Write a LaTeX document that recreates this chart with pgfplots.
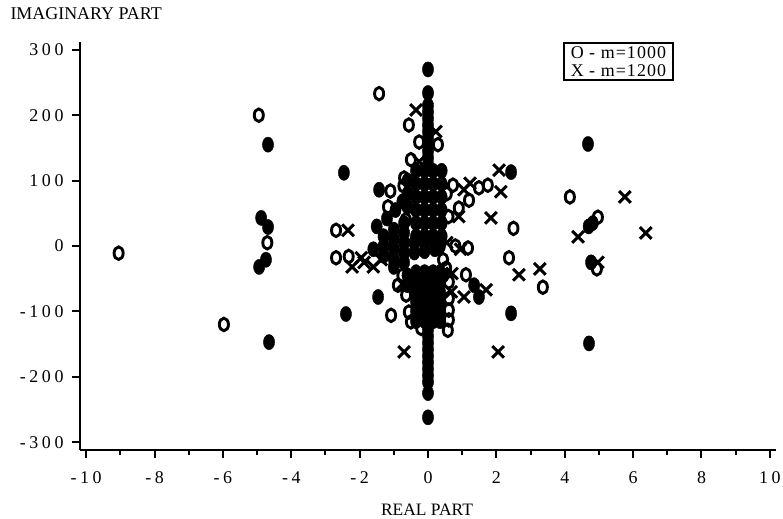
\documentclass[border=0pt]{standalone}
\usepackage{fontspec}
\setmainfont{Liberation Serif}
\newfontfamily\tickfont{Liberation Serif}[LetterSpace=20]
\newfontfamily\legfont{Liberation Serif}[LetterSpace=6]
\usepackage{pgfplots}
\pgfplotsset{compat=1.18}

\begin{document}
\begin{tikzpicture}
\useasboundingbox (-80bp,-69bp) rectangle (703bp,450bp);
\begin{axis}[
  at={(0,0)}, anchor=south west,
  scale only axis, width=696bp, height=408bp,
  xmin=-10.18, xmax=10.18, ymin=-312, ymax=312,
  axis x line*=bottom, axis y line*=left,
  axis line style={line width=2bp},
  xtick={-10,-8,...,10},
  xticklabels={-10,-8,-6,-4,-2,0,2,4,6,8,10},
  minor xtick={-9,-7,...,9},
  ytick={-300,-200,...,300},
  yticklabels={-300,-200,-100,0,100,200,300},
  tick align=outside,
  major tick length=8bp, minor tick length=5bp,
  every tick/.style={line width=2bp,black},
  ticklabel style={font=\tickfont\fontsize{18}{18}\selectfont},
  xticklabel style={yshift=-10bp},
  yticklabel style={xshift=-5bp},
  clip=false,
]
% m=1000 only
\addplot[only marks, mark=o, mark size=6.3bp,
  mark options={xscale=0.72, line width=2.9bp, black}] coordinates {
  (-9.05,-11) (-5.97,-120) (-4.95,200) (-4.70,5) (-2.69,24) (-2.69,-18)
  (-2.32,-16) (-1.43,233) (-0.56,185) (-0.26,159) (0.29,155) (-0.50,132)
  (-0.70,104) (-0.72,92) (-1.10,84) (-1.17,60) (1.75,93) (1.49,89)
  (1.20,70) (0.90,58) (0.73,93) (2.50,27) (1.11,-44) (2.37,-18)
  (1.17,-3) (0.80,0) (-1.08,-106) (4.15,75) (4.97,44) (4.94,-35) (3.36,-63)
  (-0.88,-60) (-0.64,-75) (-0.56,-101) (-0.50,-116) (-0.20,-126)
  (0.53,-34) (0.61,-55) (0.61,-80) (0.61,-98) (0.61,-113) (0.58,-129)
  (0.44,-21) (-0.75,-45) (0.55,80) (0.60,45) (-0.65,40)
};
% m=1200 only
\addplot[only marks, mark=x, mark size=8.3bp,
  mark options={line width=3bp, black}] coordinates {
  (-2.34,24) (-2.22,-32) (-1.87,-25) (-1.60,-32) (-1.37,-21) (-0.35,208)
  (0.23,175) (-0.26,129) (2.08,116) (2.13,83) (1.23,96) (1.05,86)
  (0.90,45) (1.84,43) (-0.70,-162) (2.05,-162) (1.70,-67) (1.05,-78)
  (2.66,-44) (5.76,75) (4.39,14) (6.37,20) (4.97,-25) (3.27,-35)
  (0.55,5) (0.95,-5) (0.70,-42) (0.68,-70) (-0.75,-58) (-1.95,-18)
};
% both (coinciding roots)
\addplot[only marks, mark=*, mark size=7.6bp,
  mark options={xscale=0.74, black, fill=black}] coordinates {
  (-4.68,155) (-2.46,112) (-1.43,86) (-4.88,43) (-4.68,29) (-4.94,-32)
  (-4.74,-21) (-2.40,-104) (-4.65,-147) (-1.46,-78) (0,270) (0,234)
  (2.43,113) (4.68,156) (4.82,35) (4.70,30) (4.77,-25) (2.43,-103)
  (1.35,-60) (1.49,-78) (0,-225) (0,-262) (4.71,-149)
  (0,125) (0,135) (0,145) (0,155) (0,165) (0,175) (0,185) (0,195) (0,205) (0,215)
  (-0.35,15) (-0.1,15) (0.15,15) (0.4,15)
  (-0.35,35) (-0.1,35) (0.15,35) (0.4,35)
  (-0.35,55) (-0.1,55) (0.15,55) (0.4,55)
  (-0.35,75) (-0.1,75) (0.15,75) (0.4,75)
  (-0.35,95) (-0.1,95) (0.15,95) (0.4,95)
  (-0.35,115) (-0.1,115) (0.15,115) (0.4,115)
  (-0.6,60) (-0.6,80) (-0.6,100)
  (-1.3,-15) (-1.3,0) (-1.3,15) (-1.0,-20) (-1.0,-5) (-1.0,10) (-1.0,25)
  (-0.7,-25) (-0.7,-10) (-0.7,5) (-0.7,20) (-0.7,35) (-1.5,30) (-1.2,42)
  (-0.95,55) (-0.75,68) (-1.6,-5)
  (-0.4,-10) (-0.4,5) (-0.1,-8) (-0.1,5) (0.2,-5) (0.2,5) (0.35,0) (-1.0,-32)
  (-0.35,-40) (-0.1,-40) (0.15,-40) (0.35,-40)
  (-0.35,-55) (-0.1,-55) (0.15,-55) (0.35,-55)
  (-0.35,-70) (-0.1,-70) (0.15,-70) (0.35,-70)
  (-0.35,-85) (-0.1,-85) (0.15,-85) (0.35,-85)
  (-0.35,-100) (-0.1,-100) (0.15,-100) (0.35,-100)
  (-0.35,-115) (-0.1,-115) (0.15,-115) (0.35,-115)
  (-0.6,-45) (-0.6,-60) (0.45,-45)
  (0,-128) (0,-138) (0,-148) (0,-158) (0,-168) (0,-178) (0,-188) (0,-198) (0,-208)
};
\end{axis}
\node[anchor=base west, font=\fontsize{18}{18}\selectfont] at (-73bp,430bp) {IMAGINARY PART};
\node[anchor=base, inner sep=0pt, font=\fontsize{17.5}{18}\selectfont] at (347bp,-65bp) {REAL PART};
\node[draw, line width=1.8bp, anchor=north east, inner xsep=7bp, inner ysep=3.5bp,
  align=left, font=\legfont\fontsize{18}{18}\selectfont] at (594bp,408bp)
  {O - m=1000\\X - m=1200};
\end{tikzpicture}
\end{document}
